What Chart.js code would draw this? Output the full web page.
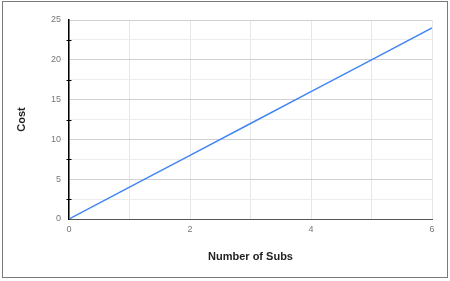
<!DOCTYPE html>
<html>
<head>
<meta charset="utf-8">
<script src="https://cdn.jsdelivr.net/npm/chart.js@4.4.0/dist/chart.umd.min.js"></script>
<style>
  html, body { margin:0; padding:0; background:#fff; }
  #wrap { position:relative; width:450px; height:281px; overflow:hidden; }
  #frame { position:absolute; left:2px; top:1px; width:444px; height:275px; border:1px solid #7a7a7a; pointer-events:none; }
  canvas { position:absolute; left:0; top:0; }
</style>
</head>
<body>
<div id="wrap">
  <canvas id="grafico" width="450" height="281"></canvas>
  <div id="frame"></div>
</div>
<script>
// dados
const subs = [0, 1, 2, 3, 4, 5, 6];
const custo = [0, 4, 8, 12, 16, 20, 24];
const yTicks = [0, 5, 10, 15, 20, 25];
const xTicks = [0, 2, 4, 6];

const fonte = "'Liberation Sans', Arial, sans-serif";

// pequenos tracos no eixo y nos valores intermediarios
const marcasMenores = {
  id: 'marcasMenores',
  afterDatasetsDraw(chart) {
    const y = chart.scales.y, ctx = chart.ctx, x0 = y.right;
    ctx.save();
    ctx.strokeStyle = '#000'; ctx.lineWidth = 1;
    y.ticks.forEach(t => {
      if (yTicks.includes(t.value)) return;
      const py = Math.round(y.getPixelForValue(t.value)) + 0.5;
      ctx.beginPath(); ctx.moveTo(x0 - 2.5, py); ctx.lineTo(x0 + 2.5, py); ctx.stroke();
    });
    ctx.restore();
  }
};

new Chart(document.getElementById('grafico'), {
  type: 'line',
  data: {
    datasets: [{
      data: subs.map((s, i) => ({ x: s, y: custo[i] })),
      borderColor: '#4285f4', borderWidth: 1.5, pointRadius: 0, fill: false, tension: 0
    }]
  },
  options: {
    responsive: false, animation: false,
    layout: { padding: { top: 20, right: 18, left: 0, bottom: 0 } },
    plugins: { legend: { display: false }, tooltip: { enabled: false } },
    scales: {
      x: {
        type: 'linear', min: 0, max: 6,
        afterFit: s => { s.height = 62; },
        ticks: {
          stepSize: 1, padding: 5, color: '#777', font: { family: fonte, size: 9 },
          callback: v => xTicks.includes(v) ? String(v) : '', maxRotation: 0
        },
        grid: { color: '#e6e6e6', drawTicks: false },
        border: { color: '#555', width: 1 },
        title: { display: true, text: 'Number of Subs', color: '#222', font: { family: fonte, size: 11, weight: 'bold' }, padding: { top: 0, bottom: 17 } }
      },
      y: {
        min: 0, max: 25,
        afterFit: s => { s.width = 69; },
        ticks: {
          stepSize: 2.5, padding: 8, color: '#777', font: { family: fonte, size: 9 },
          callback: v => yTicks.includes(v) ? String(v) : ''
        },
        grid: { color: c => yTicks.includes(c.tick.value) ? '#d0d0d0' : '#ececec', drawTicks: false },
        border: { color: '#000', width: 1.5 },
        title: { display: true, text: 'Cost', color: '#222', font: { family: fonte, size: 11, weight: 'bold' }, padding: { top: 15, bottom: 0 } }
      }
    }
  },
  plugins: [marcasMenores]
});
</script>
</body>
</html>
